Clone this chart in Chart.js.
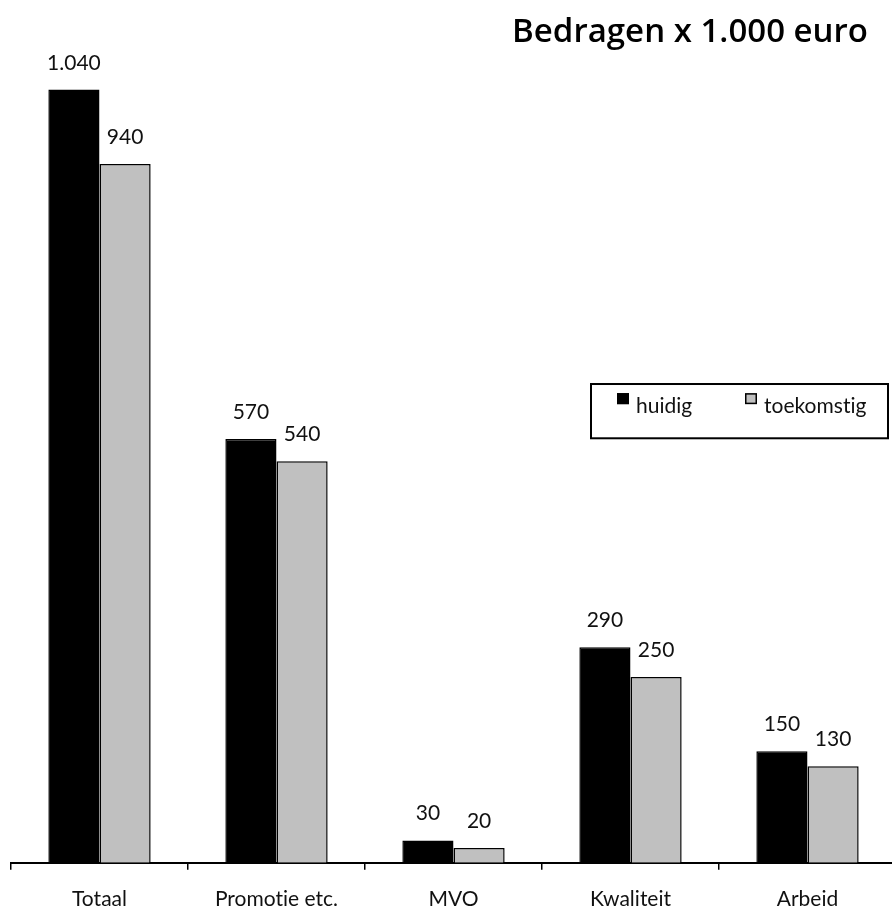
<!DOCTYPE html>
<html><head><meta charset="utf-8">
<script src="https://cdn.jsdelivr.net/npm/chart.js@4/dist/chart.umd.min.js"></script>
<style>html,body{margin:0;padding:0;background:#fff;overflow:hidden}#wrap{width:897px;height:929px;position:relative}</style>
</head><body><div id="wrap"><canvas id="c"></canvas></div>
<script>
const categories = ["Totaal", "Promotie etc.", "MVO", "Kwaliteit", "Arbeid"];
const huidig = [1040, 570, 30, 290, 150];
const toekomstig = [940, 540, 20, 250, 130];
const seriesNames = ["huidig", "toekomstig"];
const titleText = "Bedragen x 1.000 euro";
const FONT = "Lato, 'Open Sans', sans-serif";

const fmt = v => v.toLocaleString('nl-NL');

const noLig = {
  id: 'noLig',
  beforeDraw(chart) { try { chart.ctx.letterSpacing = '0.01px'; } catch (e) {} }
};

const labelsPlugin = {
  id: 'valLabels',
  afterDatasetsDraw(chart) {
    const ctx = chart.ctx;
    ctx.save();
    ctx.font = "21px " + FONT;
    ctx.fillStyle = "#111";
    ctx.textAlign = "center";
    ctx.textBaseline = "alphabetic";
    chart.data.datasets.forEach((ds, i) => {
      chart.getDatasetMeta(i).data.forEach((bar, j) => {
        ctx.fillText(fmt(ds.data[j]), bar.x, bar.y - 20);
      });
    });
    ctx.restore();
  }
};

const titlePlugin = {
  id: 'rtitle',
  afterDraw(chart) {
    const ctx = chart.ctx;
    ctx.save();
    ctx.font = "600 33px 'Open Sans', sans-serif";
    ctx.fillStyle = "#000";
    ctx.textAlign = "right";
    ctx.textBaseline = "alphabetic";
    ctx.fillText(titleText, chart.chartArea.right - 28, 42);
    ctx.restore();
  }
};

const legendPlugin = {
  id: 'boxLegend',
  afterDraw(chart) {
    const ctx = chart.ctx;
    const y = chart.scales.y;
    const x0 = 591, x1 = 888;
    const top = y.getPixelForValue(644), bot = y.getPixelForValue(571);
    ctx.save();
    ctx.lineWidth = 2;
    ctx.strokeStyle = "#000";
    ctx.fillStyle = "#fff";
    ctx.fillRect(x0, top, x1 - x0, bot - top);
    ctx.strokeRect(x0, top, x1 - x0, bot - top);
    ctx.font = "21px " + FONT;
    ctx.textBaseline = "alphabetic";
    const items = [[617, 636], [745, 764]];
    const by = (top + bot) / 2;
    chart.data.datasets.forEach((ds, i) => {
      const [sx, tx] = items[i];
      ctx.fillStyle = ds.backgroundColor;
      ctx.fillRect(sx, by - 18, 12, 11);
      ctx.lineWidth = 1.5;
      ctx.strokeRect(sx + 0.75, by - 17.25, 10.5, 9.5);
      ctx.fillStyle = "#111";
      ctx.textAlign = "left";
      ctx.fillText(ds.label, tx, by + 2);
    });
    ctx.restore();
  }
};

new Chart(document.getElementById('c'), {
  type: 'bar',
  data: {
    labels: categories,
    datasets: [
      { label: seriesNames[0], data: huidig, backgroundColor: "#000000", borderColor: "#000", borderWidth: 1.5 },
      { label: seriesNames[1], data: toekomstig, backgroundColor: "#c0c0c0", borderColor: "#000", borderWidth: 1.5 }
    ]
  },
  options: {
    responsive: true,
    maintainAspectRatio: false,
    animation: false,
    devicePixelRatio: 1,
    layout: { padding: { top: 45, left: 11, right: 1, bottom: 0 } },
    plugins: { legend: { display: false }, title: { display: false }, tooltip: { enabled: false } },
    datasets: { bar: { categoryPercentage: 0.578, barPercentage: 1 } },
    scales: {
      x: {
        offset: true,
        border: { display: true, color: "#000", width: 2 },
        grid: { display: true, drawOnChartArea: false, drawTicks: true, tickLength: 7, color: "#000", lineWidth: 1.5, offset: true },
        ticks: { color: "#111", font: { family: FONT, size: 21 }, padding: 17 }
      },
      y: {
        display: false,
        min: 0, max: 1100
      }
    }
  },
  plugins: [noLig, labelsPlugin, titlePlugin, legendPlugin]
});
</script></body></html>
